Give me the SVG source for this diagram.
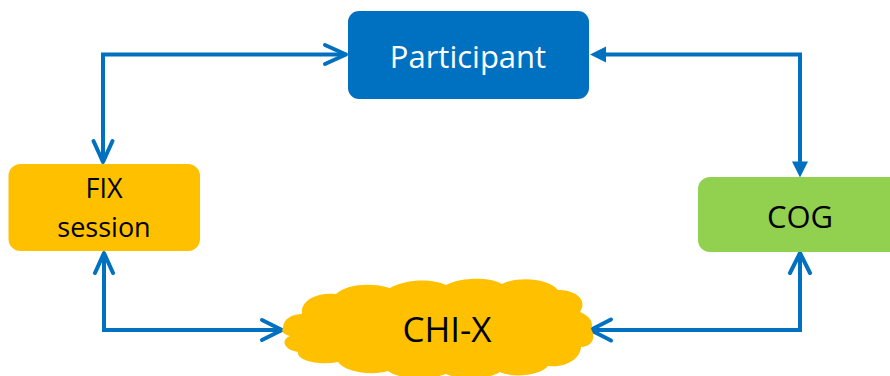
<svg xmlns="http://www.w3.org/2000/svg" width="890" height="376" viewBox="0 0 890 376">
<style>
.conn{fill:none;stroke:#0070C0;stroke-width:4;stroke-linecap:round;stroke-linejoin:miter}
.head{fill:none;stroke:#0070C0;stroke-width:4;stroke-linecap:round;stroke-linejoin:round}
.tri{fill:#0070C0}
.lbl{font-family:"Open Sans","Liberation Sans",sans-serif;text-anchor:middle}
</style>
<rect width="890" height="376" fill="#ffffff"/>
<g id="connectors">
  <path class="conn" d="M344 54.5 H103 V160"/>
  <path class="head" d="M325 45 L346 54.5 L325 64"/>
  <path class="head" d="M93.5 141 L103 162 L112.5 141"/>
  <path class="conn" d="M104 255 V330 H280"/>
  <path class="head" d="M95 273 L104 253 L113 273"/>
  <path class="head" d="M262 320 L282 330 L262 340"/>
  <path class="conn" d="M604 54.5 H800 V163"/>
  <polygon class="tri" points="590,54.5 606,46.5 606,62.5"/>
  <polygon class="tri" points="800,177.5 792,161.5 808,161.5"/>
  <path class="conn" d="M800 255 V330 H592"/>
  <path class="head" d="M790 273 L800 253 L810 273"/>
  <path class="head" d="M611 319.5 L590.5 330 L611 340.5"/>
</g>
<g id="participant">
  <rect x="348" y="11" width="241" height="88" rx="11" fill="#0070C0"/>
  <text class="lbl" x="468" y="68" font-size="31" fill="#ffffff">Participant</text>
</g>
<g id="fix-session">
  <rect x="8.5" y="164" width="191.5" height="87" rx="12" fill="#FFC000"/>
  <text class="lbl" x="104" y="198" font-size="27" fill="#000000">FIX</text>
  <text class="lbl" x="104" y="237" font-size="27" fill="#000000">session</text>
</g>
<g id="cog">
  <rect x="698" y="177" width="210" height="75" rx="12" fill="#92D050"/>
  <text class="lbl" x="800" y="228" font-size="31" fill="#000000">COG</text>
</g>
<g id="chi-x">
  <path fill="#FFC000" d="M283 328
    C283 319 292 314 302 314
    C300 300 318 292 336 294
    C346 284 372 282 390 288
    C405 279 432 278 446 285
    C462 277 490 277 502 284
    C518 276 548 278 558 290
    C576 290 588 300 580 312
    C590 316 594 323 591 329
    C596 337 593 346 581 347
    C580 360 564 368 548 366
    C540 376 512 378 500 372
    C488 380 458 380 446 374
    C430 380 400 380 388 371
    C372 376 345 372 338 362
    C318 366 296 360 298 352
    C284 350 280 340 290 336
    C283 334 281 331 283 328 Z"/>
  <text class="lbl" x="447" y="342" font-size="35" fill="#000000">CHI-X</text>
</g>
</svg>
